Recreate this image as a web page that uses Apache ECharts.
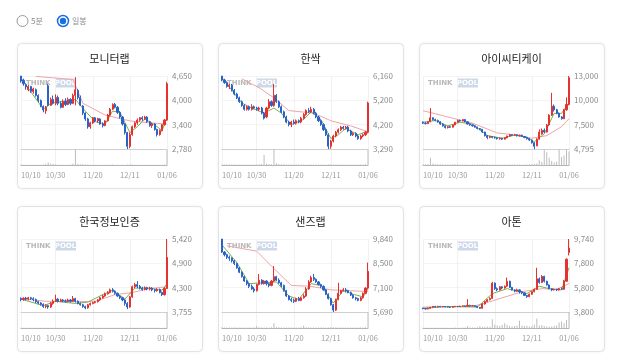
<!DOCTYPE html>
<html><head><meta charset="utf-8">
<script src="https://cdn.jsdelivr.net/npm/echarts@6/dist/echarts.min.js"></script>
<style>html,body{margin:0;padding:0;background:#fff;}#c{width:618px;height:361px;}</style>
</head><body><div id="c"></div>
<script>
// ---------------- DATA ----------------
const names = ['모니터랩','한싹','아이씨티케이','한국정보인증','샌즈랩','아톤'];
const tickIdx = [0, 14, 29, 44, 59];
const tickLabels = ['10/10','10/30','11/20','12/11','01/06'];
const yRanges = [[2780,4650],[3290,6160],[4795,13000],[3755,5420],[5690,9840],[3800,9740]];
const yLabels = [
  ['2,780','3,400','4,000','4,650'],
  ['3,290','4,200','5,200','6,160'],
  ['4,795','7,500','10,000','13,000'],
  ['3,755','4,300','4,900','5,420'],
  ['5,690','7,100','8,500','9,840'],
  ['3,800','5,800','7,800','9,740']
];
// [open, close, low, high]
const ohlc1 = [[4650,4520,4480,4650],[4540,4450,4400,4580],[4430,4370,4300,4460],[4300,4380,4260,4420],[4380,4260,4220,4400],[4250,4320,4200,4350],[4300,4150,4120,4330],[4150,4030,3980,4180],[4020,3880,3850,4050],[3870,3780,3720,3900],
[3760,3850,3680,3880],[4400,3900,3870,4450],[3900,4050,3880,4100],[4050,3950,3920,4150],[3950,4100,3900,4180],[4100,3950,3900,4150],[3950,3850,3820,4000],[3850,4000,3830,4050],[4000,3920,3880,4080],[3920,4050,3900,4100],
[4050,3950,3900,4080],[3950,4150,3930,4200],[4150,4300,3900,4620],[4280,4100,4050,4320],[4100,3900,3880,4150],[3880,3700,3650,3900],[3700,3550,3500,3720],[3550,3350,3300,3580],[3350,3450,3300,3480],[3450,3580,3420,3600],
[3580,3500,3460,3600],[3500,3560,3450,3580],[3550,3420,3400,3570],[3420,3380,3330,3460],[3380,3500,3360,3520],[3500,3650,3480,3680],[3650,3800,3620,3830],[3800,3920,3780,3950],[3920,3850,3820,3960],[3850,3720,3680,3880],
[3720,3600,3560,3750],[3600,3420,3380,3620],[3420,3200,3150,3440],[3200,2850,2780,3220],[2850,3150,2800,3200],[3150,3350,3120,3380],[3350,3450,3320,3480],[3450,3520,3400,3560],[3520,3580,3480,3600],[3580,3550,3500,3620],
[3550,3600,3520,3630],[3600,3480,3450,3620],[3480,3380,3350,3500],[3380,3420,3320,3450],[3420,3280,3250,3440],[3280,3150,3100,3300],[3150,3250,3120,3280],[3250,3400,3230,3420],[3400,3520,3380,3550],[3520,4450,3500,4500]];
const ohlc2 = [[6160,6000,5950,6160],[6000,5900,5850,6050],[5900,5750,5700,5950],[5750,5800,5650,5850],[5800,5600,5550,5850],[5600,5450,5400,5650],[5450,5300,5250,5500],[5300,5150,5100,5350],[5150,5000,4950,5200],[5000,4850,4800,5050],
[4850,4950,4800,5000],[4950,4850,4800,5000],[4850,4950,4800,5050],[4950,4900,4850,5000],[4900,4850,4800,4950],[4850,4900,4780,4950],[4900,4700,4650,4950],[4700,4500,4450,4750],[4550,4900,4500,4950],[4900,5150,4850,5250],
[5150,5000,4950,5200],[5000,5400,4950,5850],[5400,5150,5100,5450],[5150,4950,4900,5200],[4950,4750,4700,5000],[4750,4550,4500,4800],[4550,4350,4300,4600],[4350,4250,4180,4400],[4250,4350,4150,4400],[4350,4300,4250,4450],
[4300,4400,4250,4450],[4400,4350,4300,4450],[4350,4500,4300,4550],[4500,4650,4450,4700],[4650,4800,4600,4850],[4800,4750,4700,4900],[4750,4850,4700,4950],[4850,4700,4650,4900],[4700,4550,4500,4750],[4550,4400,4350,4600],
[4400,4250,4200,4450],[4250,4050,4000,4300],[4050,3850,3800,4100],[3850,3400,3290,3900],[3400,3600,3300,3650],[3600,3800,3550,3850],[3800,3950,3750,4000],[3950,4050,3900,4100],[4050,4150,4000,4200],[4150,4100,4050,4200],
[4100,4150,4050,4200],[4150,4000,3950,4200],[4000,3850,3800,4050],[3850,3900,3800,3950],[3900,3800,3750,3950],[3800,3700,3650,3850],[3700,3800,3650,3850],[3800,3850,3750,3900],[3850,3950,3800,4000],[3950,5100,3900,5150]];
const ohlc3 = [[7800,7700,7600,7900],[7700,7650,7550,7800],[7650,7850,7600,7900],[7850,8300,7800,9400],[8300,8100,8000,8350],[8100,8000,7900,8200],[8000,7850,7750,8100],[7850,7600,7500,7900],[7600,7400,7300,7650],[7400,7200,7100,7450],
[7200,7300,7100,7400],[7300,7250,7150,7400],[7250,7500,7200,7550],[7500,7800,7450,7850],[7800,8000,7750,8100],[8000,7950,7850,8100],[7950,8100,7900,8150],[8100,7850,7800,8150],[7850,7600,7550,7900],[7600,7500,7400,7650],
[7500,7400,7300,7550],[7400,7250,7200,7450],[7250,7100,7000,7300],[7100,7000,6900,7150],[7000,6700,6600,7050],[6700,6300,6200,6750],[6300,6100,5900,6350],[6100,6200,6000,6300],[6200,6100,6000,6250],[6100,6050,5950,6200],
[6050,5950,5850,6100],[5950,6000,5850,6100],[6000,5900,5800,6050],[5900,6050,5850,6100],[6050,6250,6000,6300],[6250,6400,6200,6500],[6400,6350,6250,6450],[6350,6400,6300,6500],[6400,6300,6200,6450],[6300,6350,6200,6400],
[6350,6200,6150,6400],[6200,6100,6000,6250],[6100,5950,5850,6150],[5950,5800,5700,6000],[5800,5500,5400,5850],[5500,5100,4795,5550],[5150,5900,5100,6000],[5900,6700,5850,7000],[6500,6900,6400,7100],[6900,6700,6600,7100],
[6700,7500,6650,7600],[7500,8600,7400,8700],[8600,9600,8500,11100],[9600,9200,9000,9800],[9200,8800,8700,9300],[8800,8400,8300,8900],[8400,8200,8100,8500],[8200,9200,8150,9300],[9200,9800,9100,10600],[9800,12800,9700,13000]];
const ohlc4 = [[4060,4040,4000,4090],[4040,4070,4010,4090],[4070,4050,4020,4100],[4050,4080,4020,4100],[4080,4060,4030,4100],[4060,4040,4000,4090],[4040,3990,3960,4060],[3990,3960,3930,4010],[3960,3930,3900,3980],[3930,3880,3850,3950],
[3880,3900,3840,3930],[3900,3870,3830,3920],[3870,3950,3850,3980],[3950,4000,3920,4040],[4000,4050,3980,4150],[4050,4000,3970,4070],[4000,4030,3980,4060],[4030,4010,3980,4050],[4010,4000,3970,4040],[4000,4030,3980,4060],
[4030,4000,3970,4050],[4000,4060,3990,4120],[4060,4000,3970,4080],[4000,3950,3930,4020],[3950,3920,3900,3970],[3920,3880,3850,3940],[3880,3850,3820,3900],[3850,3920,3830,3940],[3920,3950,3900,3970],[3950,3970,3930,3990],
[3970,3990,3950,4010],[3990,4030,3970,4050],[4030,4080,4010,4100],[4080,4120,4060,4150],[4120,4170,4100,4200],[4170,4200,4150,4230],[4200,4260,4180,4290],[4260,4230,4200,4300],[4230,4180,4150,4250],[4180,4120,4100,4200],
[4120,4080,4050,4140],[4080,4030,4000,4100],[4030,3950,3900,4050],[3950,3870,3820,3980],[3870,4100,3850,4120],[4100,4330,4080,4360],[4330,4380,4300,4420],[4380,4340,4300,4460],[4340,4300,4270,4370],[4300,4270,4240,4330],
[4270,4310,4250,4340],[4310,4280,4250,4330],[4280,4300,4250,4330],[4300,4260,4230,4320],[4260,4240,4200,4280],[4240,4270,4220,4300],[4270,4200,4180,4290],[4200,4150,4120,4220],[4150,4290,4130,4320],[4290,5000,4280,5420]];
const ohlc5 = [[9840,9100,9050,9840],[9100,8950,8850,9150],[8950,8800,8700,9000],[8800,8750,8600,8900],[8750,8600,8500,8800],[8600,8450,8350,8650],[8450,8200,8150,8500],[8200,7950,7900,8250],[7950,7700,7650,8000],[7700,7450,7400,7750],
[7450,7300,7200,7500],[7300,7150,7050,7350],[7150,7000,6950,7250],[7000,6900,6800,7100],[6900,7250,6850,7300],[7250,7500,7200,7850],[7500,7300,7250,7550],[7300,7450,7250,7500],[7450,7300,7200,7500],[7300,7200,7100,7350],
[7200,7450,7150,7500],[7450,7700,7400,8300],[7700,7500,7450,7750],[7500,7350,7300,7600],[7350,7200,7100,7400],[7200,6900,6850,7250],[6900,6600,6550,6950],[6600,6400,6350,6650],[6400,6350,6250,6500],[6350,6300,6200,6450],
[6300,6450,6250,6500],[6450,6350,6300,6550],[6350,6500,6300,6550],[6500,6600,6450,6700],[6600,7000,6550,7100],[7000,7400,6950,7500],[7400,7650,7350,7750],[7650,7550,7450,7850],[7550,7400,7350,7600],[7400,7250,7200,7450],
[7250,7150,7050,7300],[7150,6950,6900,7200],[6950,6700,6650,7000],[6700,6450,6400,6750],[6450,6100,6050,6500],[6100,5800,5690,6150],[5800,6400,5750,6450],[6400,6750,6350,7350],[6750,6900,6700,6950],[6900,6950,6850,7050],
[6950,6900,6800,7050],[6900,6800,6750,6950],[6800,6650,6600,6850],[6650,6500,6450,6700],[6500,6450,6350,6550],[6450,6350,6300,6500],[6350,6500,6300,6550],[6500,6750,6450,6800],[6750,7050,6700,7100],[7050,8000,7000,8500]];
const ohlc6 = [[4120,4080,4020,4150],[4080,4050,4000,4120],[4050,4100,4020,4150],[4100,4180,4080,4220],[4180,4250,4150,4280],[4250,4220,4180,4300],[4220,4260,4180,4300],[4260,4230,4200,4290],[4230,4250,4200,4280],[4250,4220,4180,4270],
[4220,4200,4160,4250],[4200,4180,4150,4230],[4180,4230,4150,4260],[4230,4260,4200,4290],[4260,4240,4200,4280],[4240,4280,4220,4310],[4280,4300,4250,4330],[4300,4270,4240,4320],[4270,4350,4250,4850],[4350,4300,4250,4380],
[4300,4320,4270,4350],[4320,4260,4220,4340],[4260,4180,4120,4280],[4180,4100,4050,4200],[4100,4450,4080,4500],[4450,4650,4400,4700],[4650,4800,4600,4850],[4800,4900,4750,5000],[4900,6150,4880,6250],[6150,5700,5600,6200],
[5700,5600,5500,5800],[5600,5850,5550,5900],[5850,5750,5650,5900],[5750,5900,5700,5950],[5900,6300,5850,6600],[6300,5800,5750,6350],[5800,5600,5550,5850],[5600,5500,5400,5650],[5500,5600,5450,5700],[5600,5450,5300,5650],
[5450,5350,5250,5500],[5350,5150,5100,5400],[5150,5050,4950,5200],[5050,5250,5000,5300],[5250,5450,5200,5500],[5450,5650,5400,5700],[5650,6500,5600,7400],[6500,6200,6100,6600],[6200,6700,6150,6800],[6700,6300,6200,6750],
[6300,6000,5950,6350],[6000,5700,5650,6050],[5700,5600,5500,5750],[5600,5650,5550,5700],[5650,5600,5500,5700],[5600,5700,5550,5750],[5700,5650,5600,5800],[5650,6300,5600,6400],[6300,8100,6250,8150],[8650,9000,8400,9740]];

const vol1 = [3,2,2,2,2,2,2,2,2,3,8,15,10,6,3,3,2,2,2,2,3,10,100,8,5,4,3,3,2,2,2,2,2,2,2,2,3,3,2,2,2,2,2,3,4,3,2,2,2,2,2,2,2,2,2,2,2,2,3,95];
const vol2 = [3,3,3,3,3,3,3,3,3,3,3,3,3,3,3,4,6,60,8,6,5,95,10,6,5,4,3,3,3,3,3,3,3,3,3,3,3,3,3,3,3,3,3,4,4,3,3,3,3,3,3,3,3,3,3,3,3,3,4,90];
const vol3 = [4,5,6,45,10,5,4,4,3,3,3,3,4,5,4,3,3,3,3,3,3,3,3,3,4,4,3,3,3,3,3,3,3,3,3,3,3,3,3,3,3,3,3,4,6,8,10,30,20,95,80,45,25,15,20,100,50,60,95,85];
const vol4 = [1,1,1,1,1,1,1,1,1,1,1,1,1,1,1,1,1,1,1,1,1,1,1,1,1,1,1,1,1,1,1,1,1,1,1,1,1,1,1,1,1,1,1,1,1,1,1,1,1,1,1,1,1,1,1,1,1,1,1,100];
const vol5 = [4,3,3,3,3,3,3,3,3,3,3,3,3,4,12,5,3,3,3,3,4,30,6,4,3,3,3,3,3,3,3,3,4,15,5,4,3,3,3,3,3,3,3,3,4,5,4,3,3,3,3,3,3,3,3,3,3,3,4,100];
const vol6 = [2,2,2,2,2,2,2,2,2,2,2,2,2,3,2,2,3,3,12,4,3,3,4,12,6,8,10,8,55,20,15,12,18,30,20,12,10,12,15,45,15,12,14,10,12,20,60,15,18,12,10,8,10,12,15,35,40,30,50,100];

// sparse moving-average points [dayIndex, value]
const maShort1 = [[0,4600],[9,3800],[12,3950],[22,4050],[26,3750],[30,3480],[34,3420],[37,3750],[40,3720],[44,3200],[47,3350],[50,3550],[54,3400],[57,3250],[59,3600]];
const maLong1  = [[6,4640],[21,4560],[25,3950],[34,3650],[44,3500],[52,3450],[59,3420]];
const maShort2 = [[0,6100],[8,5100],[12,4900],[17,4700],[21,4900],[24,4700],[28,4250],[33,4450],[36,4750],[40,4450],[44,3700],[47,3850],[50,4100],[55,3850],[59,4000]];
const maLong2  = [[8,6050],[15,5700],[21,5300],[27,4800],[37,4700],[44,4400],[52,4200],[58,4000],[59,3980]];
const maShort3 = [[0,7800],[5,8000],[10,7400],[15,7800],[20,7600],[26,6300],[32,6000],[37,6350],[42,6100],[45,5600],[49,6500],[53,8800],[56,8800],[59,10000]];
const maLong3  = [[0,9100],[10,8400],[20,7700],[30,6600],[38,6350],[44,6000],[50,6300],[56,7300],[59,8200]];
const maShort4 = [[0,4050],[9,3900],[14,4000],[22,3950],[27,3980],[33,4150],[37,4250],[42,4050],[46,4300],[52,4300],[57,4250],[59,4400]];
const maLong4  = [[0,4060],[10,4000],[20,3990],[30,4000],[38,4150],[45,4200],[52,4290],[59,4330]];
const maShort5 = [[0,9500],[6,8500],[11,7300],[16,7350],[22,7400],[27,6600],[31,6400],[36,7300],[40,7200],[45,6200],[49,6900],[53,6700],[57,6550],[59,7000]];
const maLong5  = [[2,9450],[14,9150],[20,8300],[28,7200],[36,7150],[44,6950],[52,6900],[59,6850]];
const maShort6 = [[0,4100],[10,4250],[22,4200],[28,5300],[34,5700],[42,5300],[47,5900],[52,5650],[56,5600],[59,7400]];
const maLong6  = [[0,4200],[20,4250],[28,4700],[40,5450],[48,5700],[54,5650],[59,6100]];

// ---------------- CHART ----------------
const OHLC = [ohlc1,ohlc2,ohlc3,ohlc4,ohlc5,ohlc6];
const VOL = [vol1,vol2,vol3,vol4,vol5,vol6];
const MAS = [maShort1,maShort2,maShort3,maShort4,maShort5,maShort6];
const MAL = [maLong1,maLong2,maLong3,maLong4,maLong5,maLong6];
const cats = OHLC[0].map((d, i) => String(i));

const colX = [17, 218, 419], rowY = [43, 206];
const CW = 185, CH = 145;
const FONT = '"Noto Sans CJK KR", "Noto Sans", sans-serif';
const UP = '#e5322f', DOWN = '#2a62c9';

const grid = [], xAxis = [], yAxis = [], series = [], graphic = [];

graphic.push({type:'circle', shape:{cx:22.5, cy:21, r:5.5}, style:{fill:'#fff', stroke:'#9a9a9a', lineWidth:1}});
graphic.push({type:'text', x:31, y:21, style:{text:'5분', fill:'#888', font:'8px '+FONT, textVerticalAlign:'middle'}});
graphic.push({type:'circle', shape:{cx:63, cy:21, r:5.5}, style:{fill:'#fff', stroke:'#1a6fe0', lineWidth:1.5}});
graphic.push({type:'circle', shape:{cx:63, cy:21, r:3.2}, style:{fill:'#1a6fe0'}});
graphic.push({type:'text', x:72, y:21, style:{text:'일봉', fill:'#888', font:'8px '+FONT, textVerticalAlign:'middle'}});

for (let k = 0; k < 6; k++) {
  const L = colX[k % 3], T = rowY[Math.floor(k / 3)];
  const [ymin, ymax] = yRanges[k];
  const yv = [ymin, ymin + (ymax - ymin) / 3, ymin + 2 * (ymax - ymin) / 3, ymax];

  graphic.push({type:'rect', z:-10, shape:{x:L+0.5, y:T+0.5, width:CW, height:CH, r:4},
    style:{fill:'#fff', stroke:'#e3e3e3', lineWidth:1, shadowBlur:3, shadowColor:'rgba(0,0,0,0.05)'}});
  graphic.push({type:'text', x:L+CW/2, y:T+16, style:{text:names[k], fill:'#222', font:'11px '+FONT, textAlign:'center', textVerticalAlign:'middle'}});
  graphic.push({type:'text', x:L+9, y:T+40, style:{text:'THINK', fill:'#b8b8b8', font:'bold 7px "DejaVu Sans", sans-serif', textVerticalAlign:'middle'}});
  graphic.push({type:'rect', shape:{x:L+38, y:T+35.5, width:21, height:9}, style:{fill:'#cdd8e8'}});
  graphic.push({type:'text', x:L+48.5, y:T+40, style:{text:'POOL', fill:'#fff', font:'bold 7px "DejaVu Sans", sans-serif', textAlign:'center', textVerticalAlign:'middle'}});

  grid.push({left:L+4, top:T+33, width:146, height:73});
  grid.push({left:L+4, top:T+106, width:146, height:16});

  const tickFn = (i) => tickIdx.indexOf(i) >= 0;
  xAxis.push({type:'category', gridIndex:2*k, data:cats, boundaryGap:false,
    axisLine:{show:true, lineStyle:{color:'#cfcfcf', width:1}}, axisTick:{show:false}, axisLabel:{show:false},
    splitLine:{show:true, interval:tickFn, lineStyle:{color:'#f1f1f1', width:1}}});
  xAxis.push({type:'category', gridIndex:2*k+1, data:cats, boundaryGap:false,
    axisLine:{show:true, lineStyle:{color:'#b5b5b5', width:1}}, axisTick:{show:false},
    splitLine:{show:true, interval:tickFn, lineStyle:{color:'#f1f1f1', width:1}},
    axisLabel:{show:true, interval:tickFn, showMinLabel:true, showMaxLabel:true, hideOverlap:false,
      margin:6, fontSize:7.5, color:'#9a9a9a', fontFamily:FONT, alignMinLabel:'left',
      formatter:(v, i) => { const p = tickIdx.indexOf(Number(v)); return p >= 0 ? tickLabels[p] : ''; }}});
  yAxis.push({type:'value', gridIndex:2*k, position:'right', min:ymin, max:ymax, scale:true,
    axisLine:{show:false}, axisTick:{show:false, customValues:yv},
    splitLine:{show:true, lineStyle:{color:'#f4f4f4', width:1}},
    axisLabel:{show:true, customValues:yv, margin:5, fontSize:8, color:'#8a8a8a', fontFamily:FONT,
      formatter:(v) => { let b = 0; for (let j = 1; j < 4; j++) if (Math.abs(yv[j]-v) < Math.abs(yv[b]-v)) b = j; return yLabels[k][b]; }}});
  yAxis.push({type:'value', gridIndex:2*k+1, min:0, max:'dataMax', show:false, splitLine:{show:false}});

  series.push({type:'bar', xAxisIndex:2*k+1, yAxisIndex:2*k+1, data:VOL[k], barWidth:1, itemStyle:{color:'#bdbdbd'}, silent:true});
  series.push({type:'line', xAxisIndex:2*k, yAxisIndex:2*k, data:MAL[k], showSymbol:false, clip:false, silent:true,
    lineStyle:{color:'#f0a4aa', width:1}, z:3});
  series.push({type:'line', xAxisIndex:2*k, yAxisIndex:2*k, data:MAS[k], showSymbol:false, clip:false, silent:true,
    lineStyle:{color:'#78b050', width:1}, z:3});
  series.push({type:'candlestick', xAxisIndex:2*k, yAxisIndex:2*k, data:OHLC[k], barWidth:1.6, clip:false, silent:true,
    itemStyle:{color:UP, color0:DOWN, borderColor:UP, borderColor0:DOWN, borderWidth:1}, z:4});
}

const chart = echarts.init(document.getElementById('c'), null, {renderer:'canvas'});
chart.setOption({animation:false, backgroundColor:'#fff', grid, xAxis, yAxis, series, graphic:{elements:graphic}});
</script></body></html>
